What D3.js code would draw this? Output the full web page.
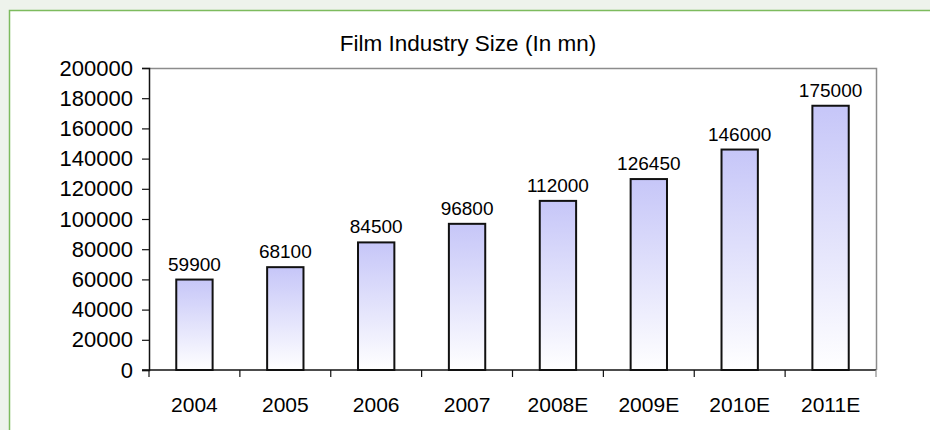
<!DOCTYPE html>
<html>
<head>
<meta charset="utf-8">
<script src="https://cdn.jsdelivr.net/npm/d3@7"></script>
<style>
  body { margin: 0; background: #eef3ec; }
  svg { display: block; font-family: Arial, "Liberation Sans", sans-serif; }
</style>
</head>
<body>
<script>
// chart data
const years = ['2004', '2005', '2006', '2007', '2008E', '2009E', '2010E', '2011E'];
const sizes = [59900, 68100, 84500, 96800, 112000, 126450, 146000, 175000];
const yTicks = [0, 20000, 40000, 60000, 80000, 100000, 120000, 140000, 160000, 180000, 200000];
const title = 'Film Industry Size (In mn)';

var W = 930, H = 430;
var margin = {top: 68, right: 54, bottom: 60, left: 149}
  , width = W - margin.left - margin.right
  , height = H - margin.top - margin.bottom;

const svg = d3.select('body').append('svg')
  .attr('width', W)
  .attr('height', H);

// white panel with green border
svg.append('rect')
  .attr('x', 9.5).attr('y', 10.5)
  .attr('width', W).attr('height', H)
  .attr('fill', '#fff')
  .attr('stroke', '#7dbb5e')
  .attr('stroke-width', 1.5);

const defs = svg.append('defs');
const grad = defs.append('linearGradient')
  .attr('id', 'barGrad')
  .attr('x1', 0).attr('y1', 0).attr('x2', 0).attr('y2', 1);
grad.append('stop').attr('offset', '0%').attr('stop-color', '#c6c6f8');
grad.append('stop').attr('offset', '100%').attr('stop-color', '#ffffff');

const xScale = d3.scaleBand()
  .domain(years)
  .range([0, width])
  .paddingInner(0.6)
  .paddingOuter(0.3);

const xBand = d3.scaleBand()
  .domain(years)
  .range([0, width]);

const yScale = d3.scaleLinear()
  .domain([0, 200000])
  .range([height, 0]);

const g = svg.append('g')
  .attr('transform', 'translate(' + margin.left + ',' + margin.top + ')');

// top and right frame (gray)
g.append('path')
  .attr('d', 'M0,0.5H' + (width + 0.5) + 'V' + height)
  .attr('fill', 'none')
  .attr('stroke', '#8c8c8c')
  .attr('stroke-width', 1.5);

// title
svg.append('text')
  .attr('x', 468)
  .attr('y', 51)
  .attr('text-anchor', 'middle')
  .attr('font-size', 22.5)
  .text(title);

// bars
g.selectAll('.bar')
  .data(sizes)
  .enter()
  .append('rect')
    .attr('class', 'bar')
    .attr('x', function(d, i) { return xScale(years[i]); })
    .attr('y', function(d) { return yScale(d); })
    .attr('width', xScale.bandwidth())
    .attr('height', function(d) { return height - yScale(d); })
    .attr('fill', 'url(#barGrad)')
    .attr('stroke', '#111')
    .attr('stroke-width', 2);

// value labels
g.selectAll('.val')
  .data(sizes)
  .enter()
  .append('text')
    .attr('class', 'val')
    .attr('x', function(d, i) { return xScale(years[i]) + xScale.bandwidth() / 2; })
    .attr('y', function(d) { return yScale(d) - 9; })
    .attr('text-anchor', 'middle')
    .attr('font-size', 19)
    .text(function(d) { return d; });

// y axis
const yAxis = g.append('g')
  .call(d3.axisLeft(yScale).tickValues(yTicks).tickSize(7).tickPadding(9).tickFormat(d3.format('d')));
yAxis.select('.domain').attr('stroke', '#111').attr('stroke-width', 1.5);
yAxis.selectAll('.tick line').attr('stroke', '#111').attr('stroke-width', 1.2);
yAxis.selectAll('text').attr('font-size', 22).attr('fill', '#000').attr('font-family', 'Arial, "Liberation Sans", sans-serif');

// x axis with ticks at category boundaries
const xg = g.append('g')
  .attr('transform', 'translate(0,' + height + ')');
xg.append('line')
  .attr('x1', -7).attr('x2', width)
  .attr('stroke', '#111').attr('stroke-width', 1.5);
xg.selectAll('.xt')
  .data(years.concat(['end']))
  .enter()
  .append('line')
    .attr('x1', function(d, i) { return i * xBand.bandwidth(); })
    .attr('x2', function(d, i) { return i * xBand.bandwidth(); })
    .attr('y1', 0).attr('y2', 7)
    .attr('stroke', function(d, i) { return i === years.length ? '#8c8c8c' : '#111'; })
    .attr('stroke-width', 1.2);
xg.selectAll('.xl')
  .data(years)
  .enter()
  .append('text')
    .attr('x', function(d) { return xBand(d) + xBand.bandwidth() / 2; })
    .attr('y', 42)
    .attr('text-anchor', 'middle')
    .attr('font-size', 21)
    .text(function(d) { return d; });
</script>
</body>
</html>
